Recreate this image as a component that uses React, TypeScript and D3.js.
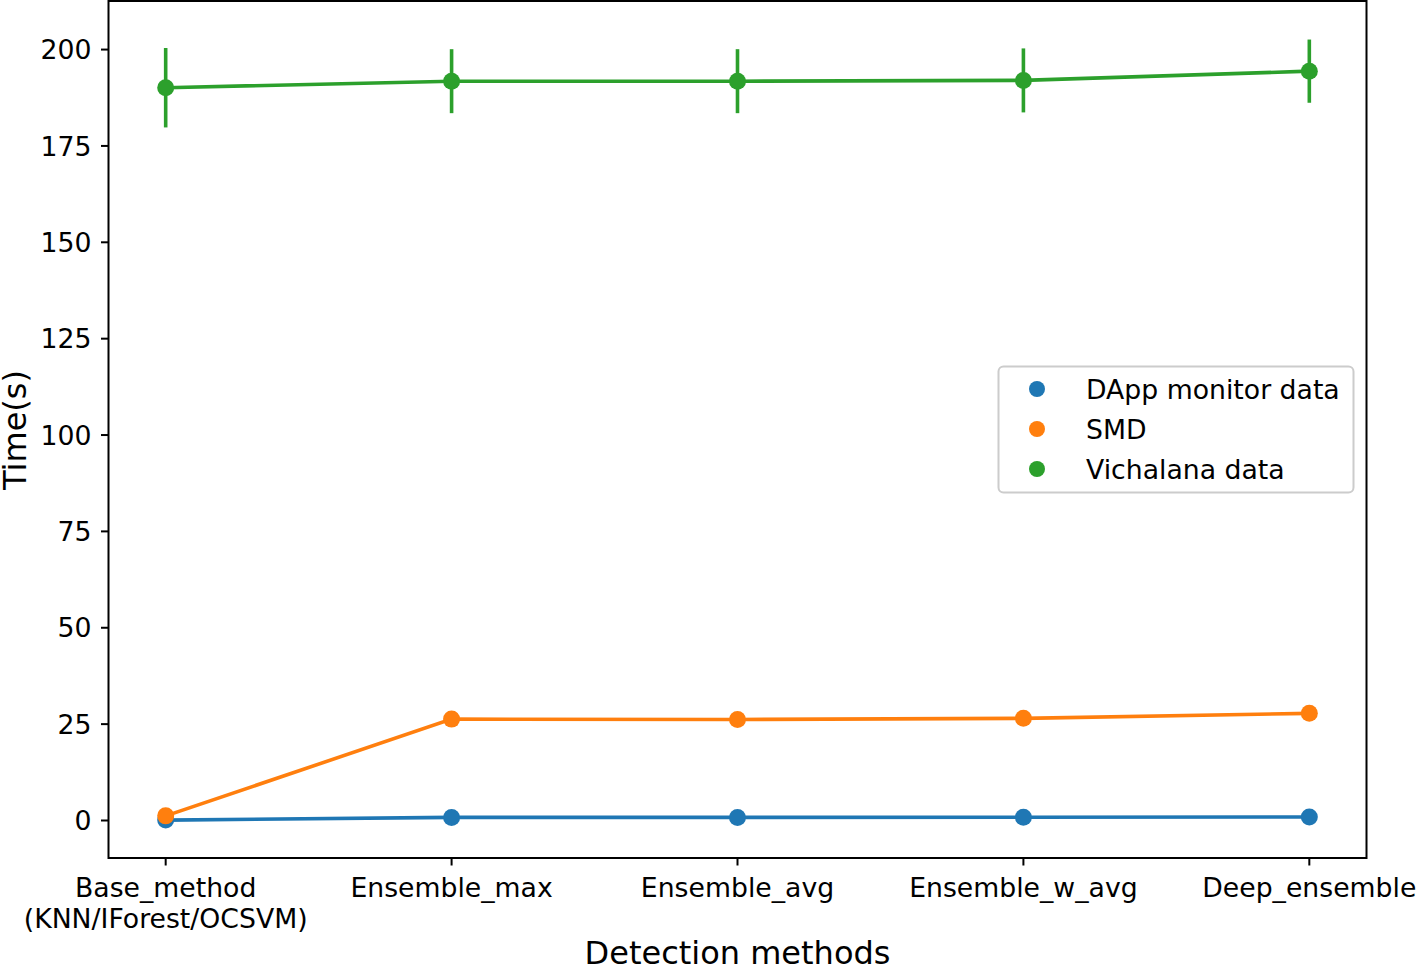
import React from "react";
import * as d3 from "d3";

const categories = ["Base_method\n(KNN/IForest/OCSVM)", "Ensemble_max", "Ensemble_avg", "Ensemble_w_avg", "Deep_ensemble"];
const seriesNames = ["DApp monitor data", "SMD", "Vichalana data"];
const colors = ["#1f77b4", "#ff7f0e", "#2ca02c"];
const dappValues = [0.1, 0.8, 0.8, 0.85, 0.9];
const smdValues = [1.2, 26.3, 26.2, 26.5, 27.8];
const vichValues = [190.1, 191.8, 191.8, 192.0, 194.4];
const vichErrors = [10.3, 8.3, 8.3, 8.3, 8.2];
const yTicks = [0, 25, 50, 75, 100, 125, 150, 175, 200];

const W = 1417, H = 967;
const left = 108.5, right = 1366.5, top = 1, bottom = 858;
const FONT = "DejaVu Sans, sans-serif";

export default function App() {
  const x = d3.scaleLinear().domain([-0.2, categories.length - 1 + 0.2]).range([left, right]);
  const y = d3.scaleLinear().domain([-9.73, 212.6]).range([bottom, top]);
  const line = d3.line<number>().x((_, i) => x(i)).y((v) => y(v));
  const series = [dappValues, smdValues, vichValues];
  return (
    <div style={{ position: "absolute", left: 0, top: 0 }}>
      <svg width={W} height={H} style={{ display: "block", background: "#fff" }} fontFamily={FONT}>
        {series.map((vals, si) => (
          <g key={si}>
            <path d={line(vals) || ""} fill="none" stroke={colors[si]} strokeWidth={3.6} />
            {si === 2 &&
              vals.map((v, i) => (
                <line key={i} x1={x(i)} x2={x(i)} y1={y(v - vichErrors[i])} y2={y(v + vichErrors[i])} stroke={colors[si]} strokeWidth={3.6} />
              ))}
            {vals.map((v, i) => (
              <circle key={i} cx={x(i)} cy={y(v)} r={8.5} fill={colors[si]} />
            ))}
          </g>
        ))}
        <rect x={left} y={top} width={right - left} height={bottom - top} fill="none" stroke="#000" strokeWidth={2} />
        {yTicks.map((t) => (
          <g key={t}>
            <line x1={left - 7.5} x2={left} y1={y(t)} y2={y(t)} stroke="#000" strokeWidth={2} />
            <text x={left - 17} y={y(t)} dy="0.36em" textAnchor="end" fontSize={26.7} fill="#000">{t}</text>
          </g>
        ))}
        {categories.map((c, i) => (
          <g key={i}>
            <line x1={x(i)} x2={x(i)} y1={bottom} y2={bottom + 7.5} stroke="#000" strokeWidth={2} />
            {c.split("\n").map((ln, j) => (
              <text key={j} x={x(i)} y={897 + j * 31} textAnchor="middle" fontSize={26.7} fill="#000">{ln}</text>
            ))}
          </g>
        ))}
        <text x={(left + right) / 2} y={964} textAnchor="middle" fontSize={32} fill="#000">Detection methods</text>
        <text transform={`translate(26,430) rotate(-90)`} textAnchor="middle" fontSize={32} fill="#000">Time(s)</text>
        <g>
          <rect x={998.5} y={366.5} width={355} height={126} rx={5} fill="#fff" fillOpacity={0.8} stroke="#ccc" strokeWidth={2} />
          {seriesNames.map((n, i) => (
            <g key={n}>
              <circle cx={1037} cy={389 + i * 40} r={8} fill={colors[i]} />
              <text x={1086} y={389 + i * 40} dy="0.36em" fontSize={26.7} fill="#000">{n}</text>
            </g>
          ))}
        </g>
      </svg>
    </div>
  );
}
